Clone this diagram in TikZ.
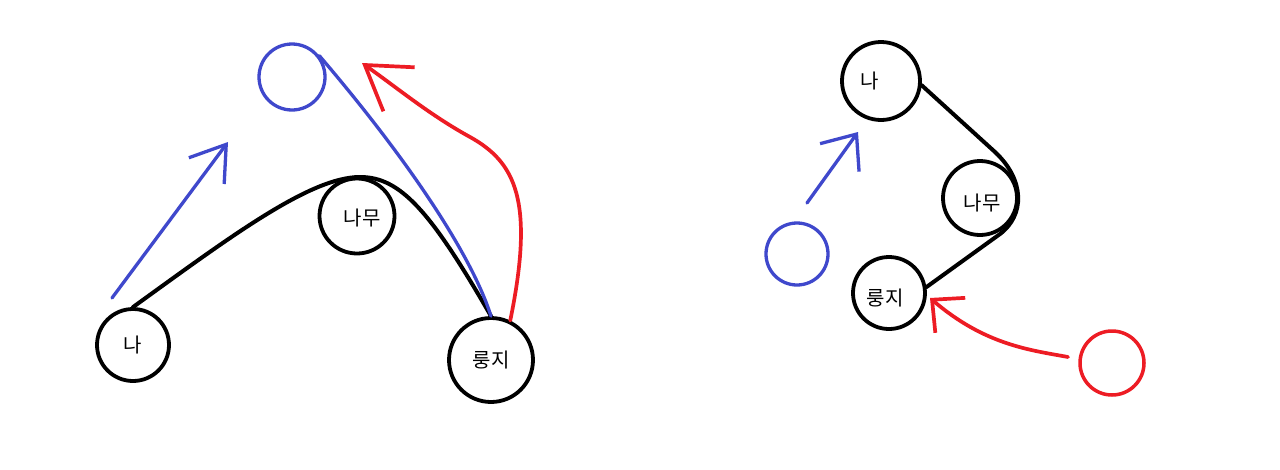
\documentclass[tikz,border=0pt]{standalone}
\usepackage{fontspec}
\newfontfamily\kr{Noto Sans CJK KR}
\usetikzlibrary{arrows.meta}
\definecolor{pblue}{RGB}{63,72,204}
\definecolor{pred}{RGB}{237,28,36}
\begin{document}
\begin{tikzpicture}[x=1pt,y=-1pt,
  line cap=round, line join=round,
  lbl/.style={font=\kr\fontsize{20}{20}\selectfont},
  blk/.style={circle, draw=black, line width=3.8pt, minimum size=#1, inner sep=0pt, lbl},
  bluecirc/.style={circle, draw=pblue, line width=3.3pt, minimum size=#1, inner sep=0pt},
  redcirc/.style={circle, draw=pred, line width=3.5pt, minimum size=#1, inner sep=0pt},
  blkline/.style={draw=black, line width=4pt},
  blueline/.style={draw=pblue, line width=3.3pt},
  redline/.style={draw=pred, line width=3.7pt},
]
\useasboundingbox (0,0) rectangle (1280,469);
\fill[white] (0,0) rectangle (1280,469);

% ---------- left diagram ----------
\node[blk=72pt] (na) at (133,345) {나};
\node[blk=75pt] (namu) at (357,216) {};
\node[lbl] (namuT) at (362,218) {나무};
\node[blk=84pt] (ryung) at (491,360) {룽지};
\node[bluecirc=66pt] (bc) at (292,77) {};

\draw[blkline] (na.north) .. controls (230,237) and (310,177) .. (360,177)
  .. controls (400,177) and (430,210) .. (ryung.north);
\draw[blueline] (bc.38) .. controls (400,150) and (470,250) .. (ryung.north);

\coordinate (ls) at (112,298);
\coordinate (lt) at (228,142);
\draw[blueline, -{Straight Barb[length=33pt,width=44pt]}] (ls) -- (lt);

\coordinate (rt) at (362,63);
\draw[redline, -{Straight Barb[length=42pt,width=54pt]}] (ryung.64)
  .. controls (535,200) and (515,162) .. (470,137)
  .. controls (430,115) and (400,90) .. (rt);

% ---------- right diagram ----------
\node[blk=78pt, label={[xshift=-11pt, lbl]center:나}] (na2) at (881,81) {};
\node[blk=74pt] (namu2) at (980,198) {};
\node[lbl] (namu2T) at (982,203) {나무};
\node[blk=72pt, label={[xshift=-4pt, yshift=-5pt, lbl]center:룽지}] (ryung2) at (889,293) {};
\node[bluecirc=62pt] (bc2) at (797,254) {};
\node[redcirc=64pt] (rc2) at (1112,363) {};

\draw[blkline] (na2.-6) -- (995,152) .. controls (1025,180) and (1025,215) .. (1000,234) -- (ryung2.9);

\coordinate (bs2) at (807,203);
\coordinate (bt2) at (858,132);
\draw[blueline, -{Straight Barb[length=29pt,width=48pt]}] (bs2) -- (bt2);

\coordinate (rs2) at (1068,357);
\coordinate (rt2) at (930,298);
\draw[redline, -{Straight Barb[length=24pt,width=46pt]}] (rs2)
  .. controls (1030,350) and (985,345) .. (rt2);
\end{tikzpicture}
\end{document}
